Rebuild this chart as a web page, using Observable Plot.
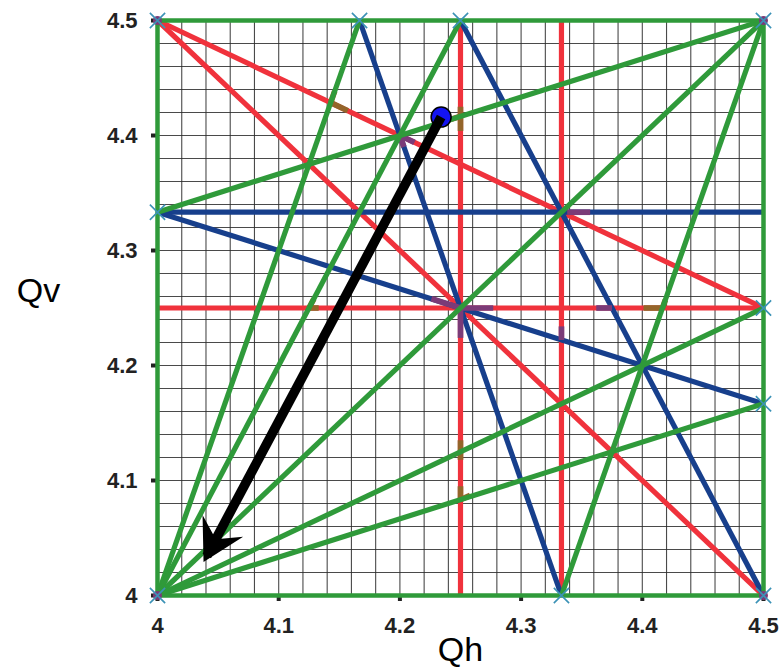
<!DOCTYPE html>
<html>
<head>
<meta charset="utf-8">
<script src="https://cdn.jsdelivr.net/npm/d3@7"></script>
<script src="https://cdn.jsdelivr.net/npm/@observablehq/plot@0.6"></script>
<style>
  html, body { margin: 0; padding: 0; background: #fff; }
  #chart { width: 780px; height: 669px; }
</style>
</head>
<body>
<div id="chart"></div>
<script>
// ---- Data ----
const xTicks = [4, 4.1, 4.2, 4.3, 4.4, 4.5];
const xTickLabels = ["4", "4.1", "4.2", "4.3", "4.4", "4.5"];
const yTicks = [4, 4.1, 4.2, 4.3, 4.4, 4.5];
const yTickLabels = ["4", "4.1", "4.2", "4.3", "4.4", "4.5"];
const gridStep = 0.02;

// resonance lines (start and end tunes)
const redLines = [
  {x1: 4.25,   y1: 4.0,    x2: 4.25,   y2: 4.5},
  {x1: 4.3333, y1: 4.0,    x2: 4.3333, y2: 4.5},
  {x1: 4.0,    y1: 4.25,   x2: 4.5,    y2: 4.25},
  {x1: 4.0,    y1: 4.5,    x2: 4.5,    y2: 4.25},
  {x1: 4.0,    y1: 4.5,    x2: 4.5,    y2: 4.0}
];
const blueLines = [
  {x1: 4.0,    y1: 4.3333, x2: 4.5,    y2: 4.3333},
  {x1: 4.0,    y1: 4.3333, x2: 4.5,    y2: 4.1667},
  {x1: 4.1667, y1: 4.5,    x2: 4.3333, y2: 4.0},
  {x1: 4.25,   y1: 4.5,    x2: 4.5,    y2: 4.0}
];
const greenLines = [
  {x1: 4.0, y1: 4.0, x2: 4.1667, y2: 4.5},
  {x1: 4.0, y1: 4.0, x2: 4.25,   y2: 4.5},
  {x1: 4.0, y1: 4.0, x2: 4.5,    y2: 4.5},
  {x1: 4.0, y1: 4.0, x2: 4.5,    y2: 4.25},
  {x1: 4.0, y1: 4.0, x2: 4.5,    y2: 4.1667},
  {x1: 4.5, y1: 4.5, x2: 4.0,    y2: 4.3333},
  {x1: 4.5, y1: 4.5, x2: 4.3333, y2: 4.0}
];
// small coloured overlap marks
const brownMarks = [
  {x1: 4.1429, y1: 4.4286, x2: 4.157,  y2: 4.4215},
  {x1: 4.1429, y1: 4.4286, x2: 4.1462, y2: 4.4386},
  {x1: 4.2380, y1: 4.4127, x2: 4.25,   y2: 4.4167},
  {x1: 4.25,   y1: 4.4040, x2: 4.25,   y2: 4.4250},
  {x1: 4.125,  y1: 4.25,   x2: 4.133,  y2: 4.25},
  {x1: 4.125,  y1: 4.25,   x2: 4.129,  y2: 4.258},
  {x1: 4.401,  y1: 4.25,   x2: 4.4167, y2: 4.25},
  {x1: 4.4167, y1: 4.25,   x2: 4.419,  y2: 4.257},
  {x1: 4.25,   y1: 4.118,  x2: 4.25,   y2: 4.135},
  {x1: 4.25,   y1: 4.0833, x2: 4.258,  y2: 4.087},
  {x1: 4.25,   y1: 4.0833, x2: 4.25,   y2: 4.095}
];
const purpleMarks = [
  {x1: 4.25,   y1: 4.25,   x2: 4.25,   y2: 4.224},
  {x1: 4.25,   y1: 4.25,   x2: 4.277,  y2: 4.25},
  {x1: 4.25,   y1: 4.25,   x2: 4.226,  y2: 4.258},
  {x1: 4.362,  y1: 4.25,   x2: 4.375,  y2: 4.25},
  {x1: 4.3333, y1: 4.2222, x2: 4.3333, y2: 4.234},
  {x1: 4.2,    y1: 4.4,    x2: 4.2033, y2: 4.39},
  {x1: 4.2,    y1: 4.4,    x2: 4.212,  y2: 4.394},
  {x1: 4.338,  y1: 4.3333, x2: 4.357,  y2: 4.3333}
];
// marked nodes
const crossPoints = [
  {x: 4.0, y: 4.5}, {x: 4.1667, y: 4.5}, {x: 4.25, y: 4.5}, {x: 4.5, y: 4.5},
  {x: 4.0, y: 4.3333}, {x: 4.5, y: 4.25}, {x: 4.5, y: 4.1667},
  {x: 4.3333, y: 4.0}, {x: 4.5, y: 4.0}, {x: 4.0, y: 4.0}
];
const cornerPoints = [
  {x: 4.0, y: 4.5}, {x: 4.5, y: 4.5}, {x: 4.5, y: 4.0}, {x: 4.0, y: 4.0}
];
const workingPoint = [{x: 4.234, y: 4.416}];
// shaft from the working point to the base of the arrow tip
const arrowPath = [{x1: 4.234, y1: 4.416, x2: 4.0407, y2: 4.0344}];
const axisTitles = {x: "Qh", y: "Qv"};

// ---- Styles ----
const RED = "#f0323c", BLUE = "#173f8c", GREEN = "#2f9a3a";
const BROWN = "#94652a", PURPLE = "#7b3b78";
const LW = 5.2;
const gridVals = d3.range(4, 4.5 + 1e-9, gridStep);
const seg = {x1: "x1", y1: "y1", x2: "x2", y2: "y2"};

// swept, filled arrow head as an SVG marker
function sweptHead(color, context) {
  const doc = (context && context.document) || document;
  const ns = "http://www.w3.org/2000/svg";
  const m = doc.createElementNS(ns, "marker");
  m.setAttribute("viewBox", "-44 -28 54 56");
  m.setAttribute("markerUnits", "userSpaceOnUse");
  m.setAttribute("markerWidth", "54");
  m.setAttribute("markerHeight", "56");
  m.setAttribute("refX", "0");
  m.setAttribute("refY", "0");
  m.setAttribute("orient", "auto");
  const p = doc.createElementNS(ns, "path");
  p.setAttribute("d", "M7,0L-34,-23L-19,0L-34,23Z");
  p.setAttribute("fill", color);
  p.setAttribute("stroke", "none");
  m.appendChild(p);
  return m;
}

function build(useMarker) {
  const arrowMarks = useMarker
    ? [Plot.link(arrowPath, {...seg, stroke: "#000", strokeWidth: 9.5, markerEnd: sweptHead})]
    : [Plot.arrow(arrowPath, {...seg, stroke: "#000", strokeWidth: 9, headLength: 8, headAngle: 60, strokeLinejoin: "miter"}),
       Plot.arrow(arrowPath, {...seg, stroke: "#000", strokeWidth: 9, headLength: 6, headAngle: 30, strokeLinejoin: "miter"})];
  return Plot.plot({
    width: 780,
    height: 669,
    marginLeft: 157,
    marginRight: 17,
    marginTop: 20,
    marginBottom: 74,
    x: {domain: [4, 4.5]},
    y: {domain: [4, 4.5]},
    style: {background: "#fff", color: "#222", fontFamily: "'Liberation Sans', Arial, sans-serif",
            fontSize: "22px", fontWeight: "bold"},
    marks: [
      Plot.ruleX(gridVals, {stroke: "#2a2a2a", strokeWidth: 1.1, strokeOpacity: 0.85}),
      Plot.ruleY(gridVals, {stroke: "#2a2a2a", strokeWidth: 1.1, strokeOpacity: 0.85}),
      Plot.axisX({ticks: xTicks, tickFormat: d => xTickLabels[xTicks.indexOf(d)], tickSize: 6, tickPadding: 16,
        fontSize: 22, fontWeight: "bold", strokeWidth: 4, label: null}),
      Plot.axisY({ticks: yTicks, tickFormat: d => yTickLabels[yTicks.indexOf(d)], tickSize: 6, tickPadding: 14,
        fontSize: 22, fontWeight: "bold", strokeWidth: 4, label: null}),
      Plot.link(redLines, {...seg, stroke: RED, strokeWidth: LW}),
      Plot.link(blueLines, {...seg, stroke: BLUE, strokeWidth: LW}),
      Plot.link(brownMarks, {...seg, stroke: BROWN, strokeWidth: LW + 0.5}),
      Plot.link(purpleMarks, {...seg, stroke: PURPLE, strokeWidth: LW + 0.5}),
      Plot.link(greenLines, {...seg, stroke: GREEN, strokeWidth: LW}),
      Plot.frame({stroke: GREEN, strokeWidth: 4.5}),
      Plot.dot(cornerPoints, {x: "x", y: "y", r: 4.5, fill: PURPLE}),
      Plot.dot(crossPoints, {x: "x", y: "y", symbol: "times", r: 7, stroke: "#3b92b6", strokeWidth: 1.6}),
      Plot.dot(workingPoint, {x: "x", y: "y", r: 10, fill: "#1414f2", stroke: "#000", strokeWidth: 1.5}),
      ...arrowMarks,
      Plot.text([axisTitles.x], {text: d => d, frameAnchor: "bottom", textAnchor: "middle", lineAnchor: "middle",
        dy: 55, fontSize: 34, fontWeight: "normal", fill: "#000"}),
      Plot.text([axisTitles.y], {text: d => d, frameAnchor: "left", textAnchor: "middle", lineAnchor: "middle",
        dx: -119, dy: -17, fontSize: 34, fontWeight: "normal", fill: "#000"})
    ]
  });
}

let chart;
try { chart = build(true); } catch (e) { chart = build(false); }
document.getElementById("chart").appendChild(chart);
</script>
</body>
</html>
